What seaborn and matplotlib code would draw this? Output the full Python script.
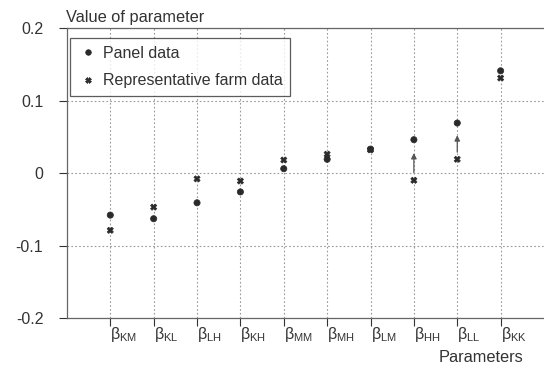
import numpy as np
import pandas as pd
import matplotlib.pyplot as plt
import seaborn as sns

# parameter names and estimates
params = ['KM', 'KL', 'LH', 'KH', 'MM', 'MH', 'LM', 'HH', 'LL', 'KK']
panel = [-0.058, -0.063, -0.041, -0.026, 0.006, 0.019, 0.033, 0.046, 0.069, 0.141]
farm = [-0.079, -0.047, -0.008, -0.011, 0.018, 0.026, 0.032, -0.010, 0.019, 0.131]
arrow_params = ['HH', 'LL']

sns.set_style('white')
plt.rcParams['font.family'] = ['Liberation Sans', 'DejaVu Sans']
plt.rcParams['mathtext.default'] = 'regular'

df = pd.DataFrame({'param': params * 2,
                   'value': panel + farm,
                   'source': ['Panel data'] * len(params) + ['Representative farm data'] * len(params)})

fig = plt.figure(figsize=(5.44, 3.69), dpi=100)
ax = fig.add_axes([0.123, 0.138, 0.877, 0.786])

sns.scatterplot(data=df, x='param', y='value', style='source',
                markers={'Panel data': 'o', 'Representative farm data': 'X'},
                color='#2a2a2a', s=20, edgecolor='#2a2a2a', linewidth=0.5, ax=ax, zorder=3)

# arrows from farm estimate toward panel estimate
for p in arrow_params:
    i = params.index(p)
    lo, hi = farm[i], panel[i]
    gap = (hi - lo) * 0.2
    ax.annotate('', xy=(i, hi - gap * 1.3), xytext=(i, lo + gap * 0.6),
                arrowprops=dict(arrowstyle='-|>', color='#555555', lw=0.9, mutation_scale=8))

ax.set_xlim(-1, 10)
ax.set_ylim(-0.2, 0.2)
ax.set_yticks([-0.2, -0.1, 0, 0.1, 0.2])
ax.set_yticklabels(['-0.2', '-0.1', '0', '0.1', '0.2'])
ax.set_xticks(range(len(params)))
ax.set_xticklabels([r'$\beta_{%s}$' % p for p in params], ha='left')
ax.tick_params(axis='both', labelsize=11.5, colors='#333333', length=6, width=0.8,
               direction='out', left=True, bottom=True)
ax.tick_params(axis='y', pad=11)
ax.tick_params(axis='x', pad=-1)

ax.grid(True, linestyle=(0, (1.5, 2)), color='#999999', linewidth=0.8)
for s in ['left', 'bottom', 'top']:
    ax.spines[s].set_color('#666666')
    ax.spines[s].set_linewidth(0.9)
ax.spines['right'].set_visible(False)

ax.set_xlabel('')
ax.set_ylabel('')
fig.text(0.121, 0.94, 'Value of parameter', fontsize=11.8, color='#333333')
fig.text(0.962, 0.012, 'Parameters', fontsize=11.8, color='#333333', ha='right', va='bottom')

leg = ax.legend(loc='upper left', bbox_to_anchor=(0.006, 0.967), frameon=True, fancybox=False,
                fontsize=11.5, handletextpad=0.25, borderpad=0.5, labelspacing=0.8,
                handlelength=1.3, title=None, borderaxespad=0, markerscale=0.9)
leg.get_frame().set_edgecolor('#333333')
leg.get_frame().set_linewidth(0.9)
for t in leg.get_texts():
    t.set_color('#333333')

fig.savefig('out.png', dpi=100)
